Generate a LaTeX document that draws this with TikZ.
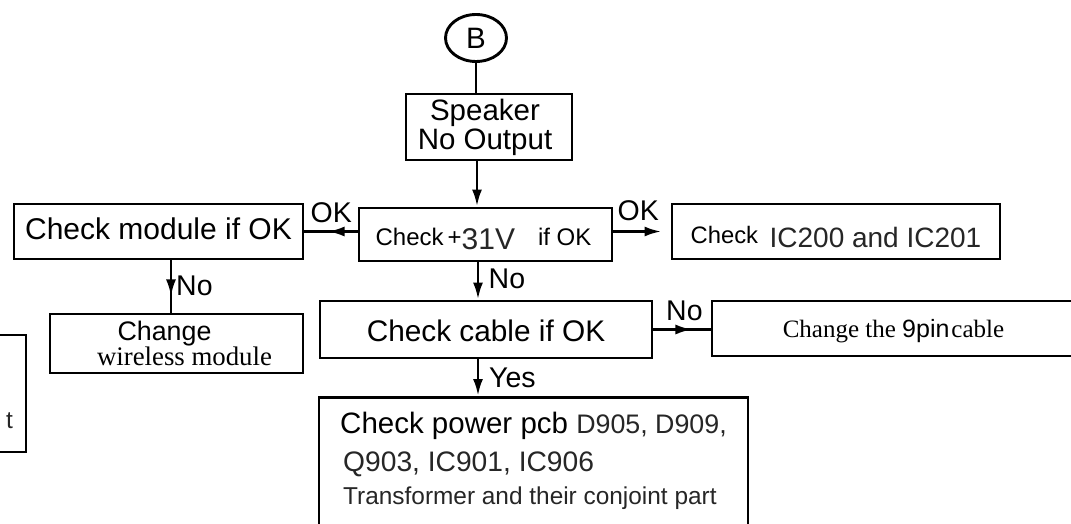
\documentclass[tikz,border=0pt]{standalone}
\usepackage{fontspec}
\setmainfont{Liberation Sans}
\newfontfamily\tms{Liberation Serif}
\usetikzlibrary{arrows.meta,calc,shapes.geometric}
\definecolor{txtg}{gray}{0.15}
\newcommand\fsz[2]{\fontsize{#1}{#2}\selectfont}
\begin{document}
\lineskiplimit=-100pt \lineskip=0pt
\begin{tikzpicture}[x=1pt,y=-1pt,
  box/.style={draw, line width=2.9pt, rectangle, inner sep=0pt, align=center},
  lbl/.style={anchor=base west, inner sep=0pt, font=\fsz{28.5}{30}},
  arr/.style={line width=2.9pt, -{Latex[length=17pt,width=10pt]}},
  ln/.style={line width=2.9pt}]
\useasboundingbox (0,0) rectangle (1071,524);
\fill[white] (0,0) rectangle (1071,524);

% spine coordinates
\coordinate (sp) at (477,0);
\coordinate (sq) at (478,0);
\coordinate (mx) at (171,0);

% nodes
\node[draw, ellipse, line width=2.9pt, minimum width=61pt, minimum height=47pt,
      inner sep=0pt, font=\fsz{29.5}{30}] (B) at (476,38) {B};
\node[box, minimum width=166pt, minimum height=66pt, font=\fsz{29.5}{29}] (spk) at (489,127)
  {Speaker\hspace*{8pt}\\No Output\hspace*{8pt}};
\node[box, minimum width=253pt, minimum height=53pt, font=\fsz{24}{28},
      text height=21pt, text depth=0pt] (c31) at (485.5,234.5)
  {Check\hspace{4pt}+\raisebox{-4pt}{\fsz{30}{30}\color{txtg}31V}\hspace{23pt}if OK\hspace*{4pt}};
\node[box, minimum width=289pt, minimum height=55pt, font=\fsz{30}{30},
      text height=15pt, text depth=0pt] (mod) at (158.5,231.5) {Check module if OK};
\node[box, minimum width=328pt, minimum height=55pt, font=\fsz{23.8}{28},
      text height=31pt, text depth=0pt] (ic) at (836,231.5)
  {\raisebox{4pt}{Check}\hspace{11.5pt}{\fsz{28}{28}\color{txtg}IC200 and IC201}};
\node[box, minimum width=253pt, minimum height=59pt, font=\fsz{26.8}{25}] (wl) at (176.5,343.5)
  {Change\hspace*{24pt}\\\hspace*{16pt}{\tms wireless module}};
\node[box, minimum width=332pt, minimum height=57pt, font=\fsz{29.8}{30},
      text height=24.4pt, text depth=0pt] (cable) at (486,329.5) {Check cable if OK};
\node[box, minimum width=363pt, minimum height=55pt, font=\fsz{25}{28},
      text height=17pt, text depth=0pt] (pin) at (893.5,328.5)
  {{\tms Change the }9pin{\tms\hspace{2pt}cable}};
\node[box, anchor=north, minimum width=429pt, inner ysep=15pt, align=left,
      font=\fsz{29.5}{35}] (pwr) at (533.5,396)
  {Check power pcb {\fsz{26.8}{35}\color{txtg}D905, D909,}\\[3pt]
   \hspace*{3pt}{\fsz{28.2}{35}\color{txtg}Q903, IC901, IC906}\\[-2pt]
   \hspace*{3pt}{\fsz{24.4}{35}\color{txtg}Transformer and their conjoint part}\\[40pt]
   \mbox{}};
\node[box, minimum width=125pt, minimum height=117pt] (lft) at (-36.5,393.5) {};
\node[anchor=base east, inner sep=0pt, font=\fsz{24.4}{28}, text=txtg] (lftt) at (13,428) {t};

% connectors
\draw[ln] (B.south) -- (B.south |- spk.north);
\draw[arr] (sp |- spk.south) -- (sp |- c31.north);
% left OK
\draw[ln] (mod.east -| c31.west) -- (mod.east);
\draw[arr] (mod.east -| c31.west) -- ($(mod.east -| c31.west)+(-30,0)$);
% right OK
\draw[arr] (ic.west -| c31.east) -- ($(ic.west)+(-9,0)$);
% module No
\draw[ln] (mx |- mod.south) -- (mx |- wl.north);
\draw[arr] (mx |- mod.south) -- ($(mx |- mod.south)+(0,36)$);
% c31 No
\draw[arr] (sq |- c31.south) -- (sq |- cable.north);
% cable No
\draw[ln] (cable.east) -- (cable.east -| pin.west);
\draw[arr] (cable.east) -- ($(cable.east)+(39,0)$);
% cable Yes
\draw[arr] (sq |- cable.south) -- (sq |- pwr.north);

% labels
\node[lbl] (ok1) at (310.5,222) {OK};
\node[lbl] (ok2) at (617.5,220) {OK};
\node[lbl] (no1) at (176,295) {No};
\node[lbl] (no2) at (488.5,288) {No};
\node[lbl] (no3) at (666,320) {No};
\node[lbl] (yes) at (489,387) {Yes};
\end{tikzpicture}
\end{document}
